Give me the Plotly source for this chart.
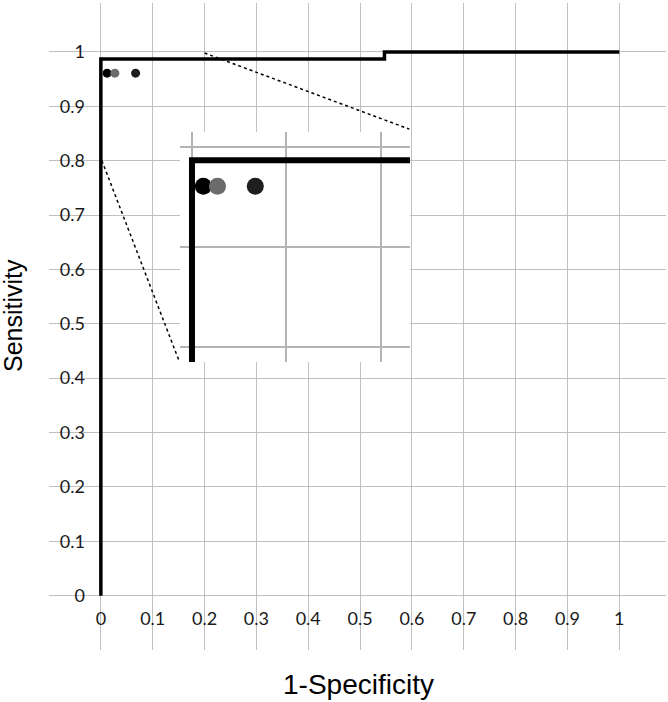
import plotly.graph_objects as go

# ROC curve (1-specificity vs sensitivity)
roc_fpr = [0, 0, 0.547, 0.547, 1.0]
roc_tpr = [0, 0.987, 0.987, 1.0, 1.0]

# operating points
pt_fpr = [0.012, 0.027, 0.067]
pt_tpr = [0.961, 0.961, 0.961]
pt_colors = ["#000000", "#6b6b6b", "#1e1e1e"]

# dotted zoom connectors (main axes coords)
conn_a_x = [0.2, 0.595]
conn_a_y = [0.998, 0.858]
conn_b_x = [0.002, 0.150]
conn_b_y = [0.80, 0.434]

tick_vals = [-0.1, 0, 0.1, 0.2, 0.3, 0.4, 0.5, 0.6, 0.7, 0.8, 0.9, 1]
tick_text = ["", "0", "0.1", "0.2", "0.3", "0.4", "0.5", "0.6", "0.7", "0.8", "0.9", "1"]

inset_xticks = [0, 0.1, 0.2]
inset_yticks = [0.8, 0.9, 1.0]

fig = go.Figure()

# main chart
fig.add_trace(go.Scatter(x=roc_fpr, y=roc_tpr, mode="lines",
                         line=dict(color="black", width=3.5), xaxis="x", yaxis="y"))
fig.add_trace(go.Scatter(x=pt_fpr, y=pt_tpr, mode="markers",
                         marker=dict(color=pt_colors, size=9), xaxis="x", yaxis="y"))
for cx, cy in [(conn_a_x, conn_a_y), (conn_b_x, conn_b_y)]:
    fig.add_trace(go.Scatter(x=cx, y=cy, mode="lines",
                             line=dict(color="black", width=1.5, dash="dot"),
                             xaxis="x", yaxis="y"))

# inset (zoom on top-left corner)
fig.add_trace(go.Scatter(x=roc_fpr, y=roc_tpr, mode="lines",
                         line=dict(color="black", width=6), xaxis="x2", yaxis="y2"))
fig.add_trace(go.Scatter(x=pt_fpr, y=pt_tpr, mode="markers",
                         marker=dict(color=pt_colors, size=17), xaxis="x2", yaxis="y2"))

grid = "#c0c0c0"
tick_font = dict(family="Lato", size=18, color="#1a1a1a")
fig.update_layout(
    width=668, height=702,
    margin=dict(l=49, r=2, t=3, b=52),
    paper_bgcolor="white", plot_bgcolor="white",
    showlegend=False,
    xaxis=dict(range=[-0.1, 1.09], tickvals=tick_vals, ticktext=tick_text,
               tickfont=tick_font,
               showgrid=True, gridcolor=grid, gridwidth=1.3, zeroline=False,
               showline=False, ticks="", anchor="free", position=0.1 / 1.19,
               ticklabelstandoff=10, domain=[0, 1], automargin=False),
    yaxis=dict(range=[-0.1, 1.09], tickvals=tick_vals, ticktext=tick_text,
               tickfont=tick_font,
               showgrid=True, gridcolor=grid, gridwidth=1.3, zeroline=False,
               showline=False, ticks="", anchor="free", position=0.1 / 1.19,
               ticklabelstandoff=16, domain=[0, 1], automargin=False),
    xaxis2=dict(range=[-0.0127, 0.2307], tickvals=inset_xticks, showticklabels=False,
                showgrid=True, gridcolor="#b4b4b4", gridwidth=2, zeroline=False,
                domain=[0.2123, 0.585], anchor="y2", automargin=False),
    yaxis2=dict(range=[0.785, 1.0153], tickvals=inset_yticks, showticklabels=False,
                showgrid=True, gridcolor="#b4b4b4", gridwidth=2, zeroline=False,
                domain=[0.445, 0.8006], anchor="x2", automargin=False),
    annotations=[
        dict(text="1-Specificity", xref="paper", yref="paper", x=(358 - 49) / 617,
             y=-(684 - 650) / 647, xanchor="center", yanchor="middle", showarrow=False,
             font=dict(family="Liberation Sans", size=28, color="black")),
        dict(text="Sensitivity", xref="paper", yref="paper", x=-(49 - 13) / 617,
             y=(650 - 316) / 647, xanchor="center", yanchor="middle", showarrow=False,
             textangle=-90, font=dict(family="Liberation Sans", size=25, color="black")),
    ],
)

# drop the browser's default body margin so the figure sits at the page corner
fig.write_html("out.html", config={"displayModeBar": False},
               post_script="document.body.style.margin='0';")
